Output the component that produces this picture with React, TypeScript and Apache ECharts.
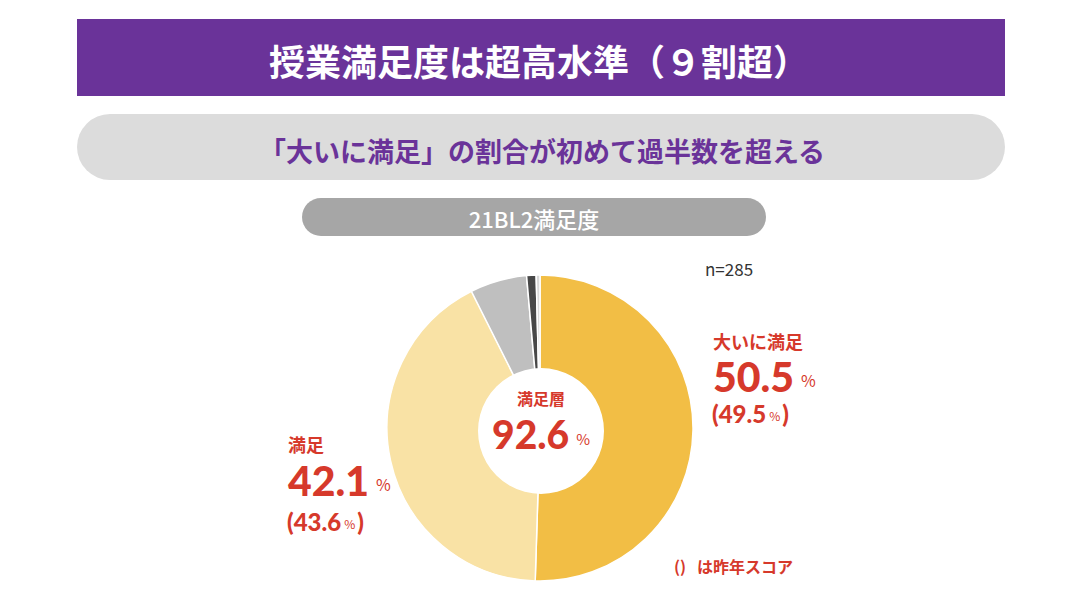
import React, { useEffect, useRef } from "react";
import * as echarts from "echarts";

const title = "授業満足度は超高水準（９割超）";
const subtitle = "「大いに満足」の割合が初めて過半数を超える";
const pillLabel = "21BL2満足度";
const sampleNote = "n=285";
const legendNote = "()   は昨年スコア";
const centerLabel = "満足層";
const centerValue = "92.6";

const categories = ["大いに満足", "満足", "やや不満", "不満", "無回答"];
const values = [50.5, 42.1, 6.0, 1.0, 0.4];
const lastYear = [49.5, 43.6];
const colors = ["#F2BE45", "#F9E2A5", "#BFBFBF", "#474747", "#D9D9D9"];

const RED = "#D6392B";
const PURPLE = "#6A3399";
const FONT = "'Noto Sans CJK JP', 'Noto Sans', sans-serif";
const NUMFONT = "Lato, 'Noto Sans', sans-serif";

export default function App() {
  const ref = useRef<HTMLDivElement>(null);
  useEffect(() => {
    if (!ref.current) return;
    const chart = echarts.init(ref.current, null, { renderer: "svg" });

    const bigRich = {
      big: { fontSize: 41, fontWeight: 900, fill: RED, fontFamily: NUMFONT, lineHeight: 32 },
      pct: { fontSize: 16, fill: RED, fontFamily: FONT, padding: [8, 0, 0, 7], lineHeight: 16 },
    };
    const prevRich = {
      prev: { fontSize: 24, fontWeight: 900, fill: RED, fontFamily: NUMFONT, lineHeight: 20 },
      prevPct: { fontSize: 12, fill: RED, fontFamily: FONT, padding: [4, 2, 0, 3], lineHeight: 12 },
    };
    const labelBlock = (i: number, x: number, yName: number, yBig: number, yPrev: number) => [
      {
        type: "text",
        x,
        y: yName,
        z: 20,
        style: { text: categories[i], fill: RED, fontSize: 18, fontWeight: "bold", fontFamily: FONT, verticalAlign: "middle", lineHeight: 20 },
      },
      {
        type: "text",
        x,
        y: yBig,
        z: 20,
        style: { text: `{big|${values[i].toFixed(1)}}{pct|%}`, rich: bigRich, verticalAlign: "middle" },
      },
      {
        type: "text",
        x: x - 1,
        y: yPrev,
        z: 20,
        style: { text: `{prev|(${lastYear[i].toFixed(1)}}{prevPct|%}{prev|)}`, rich: prevRich, verticalAlign: "middle" },
      },
    ];

    chart.setOption({
      animation: false,
      backgroundColor: "#ffffff",
      series: [
        {
          type: "pie",
          center: [540, 428],
          radius: [0, 153],
          startAngle: 90,
          clockwise: true,
          label: { show: false },
          labelLine: { show: false },
          emphasis: { disabled: true },
          itemStyle: { borderColor: "#ffffff", borderWidth: 1.5 },
          data: categories.map((c, i) => ({ name: c, value: values[i], itemStyle: { color: colors[i] } })),
        },
      ],
      graphic: [
        { type: "rect", shape: { x: 77, y: 19, width: 928, height: 77 }, style: { fill: PURPLE } },
        {
          type: "text",
          x: 539,
          y: 60,
          style: { text: title, fill: "#fff", fontSize: 36, fontWeight: "bold", fontFamily: FONT, align: "center", verticalAlign: "middle" },
        },
        { type: "rect", shape: { x: 77, y: 114, width: 928, height: 66, r: 33 }, style: { fill: "#DCDCDC" } },
        {
          type: "text",
          x: 542,
          y: 150,
          style: { text: subtitle, fill: PURPLE, fontSize: 27, fontWeight: "bold", fontFamily: FONT, align: "center", verticalAlign: "middle" },
        },
        { type: "rect", shape: { x: 302, y: 198, width: 464, height: 38, r: 19 }, style: { fill: "#A6A6A6" } },
        {
          type: "text",
          x: 534,
          y: 218,
          style: { text: pillLabel, fill: "#fff", fontSize: 22, fontWeight: 500, fontFamily: FONT, align: "center", verticalAlign: "middle" },
        },
        {
          type: "text",
          x: 705,
          y: 268,
          style: { text: sampleNote, fill: "#333", fontSize: 17, fontFamily: FONT, verticalAlign: "middle" },
        },
        { type: "circle", shape: { cx: 541, cy: 431, r: 63 }, style: { fill: "#ffffff" }, z: 10 },
        ...labelBlock(0, 713, 341, 376, 413),
        ...labelBlock(1, 288, 444, 480, 521),
        {
          type: "text",
          x: 541,
          y: 398,
          z: 20,
          style: { text: centerLabel, fill: RED, fontSize: 16, fontWeight: "bold", fontFamily: FONT, align: "center", verticalAlign: "middle", lineHeight: 18 },
        },
        {
          type: "text",
          x: 541,
          y: 434,
          z: 20,
          style: {
            text: `{big|${centerValue}}{pct|%}`,
            align: "center",
            verticalAlign: "middle",
            rich: {
              big: { fontSize: 39, fontWeight: 900, fill: RED, fontFamily: NUMFONT, lineHeight: 32 },
              pct: { fontSize: 15, fill: RED, fontFamily: FONT, padding: [8, 0, 0, 7], lineHeight: 15 },
            },
          },
        },
        {
          type: "text",
          x: 674,
          y: 566,
          style: { text: legendNote, fill: RED, fontSize: 16, fontWeight: "bold", fontFamily: FONT, verticalAlign: "middle" },
        },
      ],
    });
    return () => chart.dispose();
  }, []);
  return <div ref={ref} style={{ position: "fixed", left: 0, top: 0, width: 1074, height: 603 }} />;
}
